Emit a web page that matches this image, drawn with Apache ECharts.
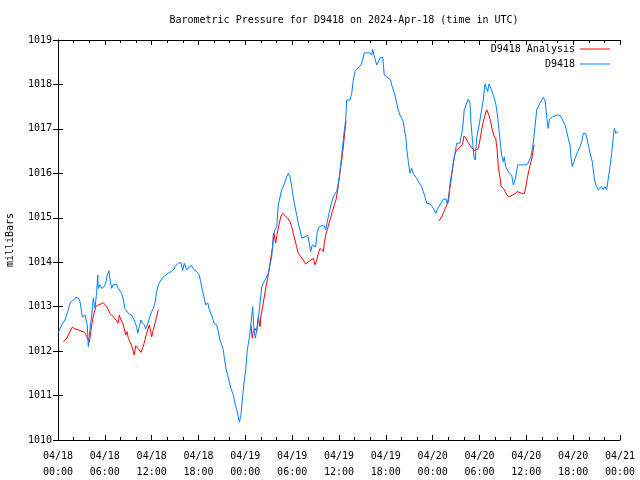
<!DOCTYPE html>
<html><head><meta charset="utf-8">
<script src="https://cdn.jsdelivr.net/npm/echarts@6/dist/echarts.min.js"></script>
<style>html,body{margin:0;padding:0;background:#fff}#c{width:640px;height:480px}</style>
</head><body><div id="c"></div>
<script>
const titleText = 'Barometric Pressure for D9418 on 2024-Apr-18 (time in UTC)';
const yName = 'milliBars';
const xTickLabels = ['04/18\n00:00','04/18\n06:00','04/18\n12:00','04/18\n18:00','04/19\n00:00','04/19\n06:00','04/19\n12:00','04/19\n18:00','04/20\n00:00','04/20\n06:00','04/20\n12:00','04/20\n18:00','04/21\n00:00'];
const seriesNames = ['D9418 Analysis','D9418'];
// [hours since 04/18 00:00 UTC, millibars]
const obs = [[0,1012.40],[0.47,1012.59],[0.90,1012.70],[1.32,1012.93],[1.54,1013.08],[1.76,1013.09],[1.96,1013.15],[2.27,1013.20],[2.60,1013.20],[2.82,1013.11],[2.95,1012.96],[3.11,1012.77],[3.24,1012.74],[3.46,1012.81],[3.59,1012.70],[3.75,1012.59],[3.88,1012.10],[4.01,1012.36],[4.32,1012.81],[4.52,1013.19],[4.74,1012.97],[4.96,1013.34],[5.09,1013.71],[5.16,1013.41],[5.38,1013.49],[5.60,1013.41],[5.89,1013.45],[6.11,1013.53],[6.32,1013.71],[6.53,1013.81],[6.66,1013.60],[6.88,1013.41],[7.01,1013.49],[7.17,1013.50],[7.52,1013.50],[7.72,1013.41],[7.94,1013.38],[8.16,1013.30],[8.37,1013.15],[8.58,1012.96],[8.80,1012.93],[9.01,1012.85],[9.22,1012.89],[9.44,1012.81],[9.65,1012.74],[9.86,1012.70],[10.08,1012.55],[10.21,1012.40],[10.42,1012.55],[10.63,1012.70],[10.80,1012.63],[11.06,1012.59],[11.24,1012.50],[11.44,1012.59],[11.70,1012.74],[11.91,1012.85],[12.21,1012.96],[12.43,1013.08],[12.64,1013.34],[12.85,1013.49],[13.07,1013.56],[13.36,1013.64],[13.71,1013.70],[14.13,1013.75],[14.57,1013.80],[14.90,1013.85],[14.99,1013.90],[15.41,1013.98],[15.76,1013.99],[15.97,1013.81],[16.18,1013.98],[16.49,1013.83],[16.82,1013.89],[17.13,1013.92],[17.42,1013.83],[17.77,1013.79],[18.10,1013.71],[18.28,1013.56],[18.49,1013.38],[18.70,1013.22],[18.92,1013.04],[19.18,1013.09],[19.34,1012.96],[19.56,1012.85],[19.77,1012.77],[19.98,1012.63],[20.33,1012.59],[20.54,1012.44],[20.75,1012.25],[20.97,1012.14],[21.18,1012.03],[21.31,1011.84],[21.52,1011.61],[21.74,1011.46],[21.94,1011.31],[22.16,1011.16],[22.46,1011.01],[22.67,1010.83],[22.89,1010.68],[23.10,1010.52],[23.23,1010.41],[23.41,1010.52],[23.61,1010.90],[23.83,1011.28],[24.05,1011.58],[24.25,1012.03],[24.47,1012.25],[24.69,1012.55],[24.81,1012.77],[24.94,1013.00],[25.11,1012.48],[25.28,1012.29],[25.46,1012.48],[25.66,1012.70],[25.88,1013.08],[26.10,1013.45],[26.30,1013.53],[26.52,1013.60],[26.74,1013.56],[26.94,1013.75],[27.16,1013.94],[27.38,1014.12],[27.58,1014.61],[27.80,1014.73],[28.02,1014.80],[28.22,1015.29],[28.44,1015.33],[28.66,1015.63],[28.86,1015.70],[29.08,1015.81],[29.30,1015.92],[29.50,1016.00],[29.72,1015.92],[29.94,1015.70],[30.14,1015.47],[30.36,1015.25],[30.58,1015.06],[30.78,1014.88],[31.00,1014.73],[31.22,1014.54],[31.42,1014.50],[31.64,1014.57],[31.99,1014.61],[32.19,1014.43],[32.37,1014.24],[32.58,1014.39],[32.80,1014.39],[33.01,1014.34],[33.22,1014.69],[33.47,1014.80],[33.78,1014.82],[34.11,1014.82],[34.29,1014.73],[34.50,1014.69],[34.72,1015.10],[34.97,1015.29],[35.27,1015.47],[35.49,1015.54],[35.70,1015.59],[35.91,1015.78],[36.04,1015.92],[36.22,1016.19],[36.42,1016.53],[36.64,1016.90],[36.86,1017.20],[36.98,1017.65],[37.19,1017.69],[37.41,1017.65],[37.63,1017.80],[37.83,1018.10],[38.05,1018.29],[38.27,1018.34],[38.56,1018.39],[38.82,1018.44],[39.03,1018.55],[39.24,1018.71],[39.55,1018.71],[39.97,1018.71],[40.19,1018.66],[40.32,1018.79],[40.48,1018.66],[40.61,1018.62],[40.83,1018.44],[41.03,1018.51],[41.34,1018.61],[41.60,1018.61],[41.80,1018.21],[42.11,1018.19],[42.31,1018.14],[42.62,1018.10],[42.75,1017.99],[42.95,1017.88],[43.17,1017.76],[43.39,1017.58],[43.59,1017.43],[43.81,1017.31],[44.03,1017.24],[44.24,1017.16],[44.36,1017.01],[44.58,1016.79],[44.67,1016.56],[44.88,1016.26],[45.09,1016.00],[45.31,1016.11],[45.52,1016.00],[45.73,1015.96],[45.95,1015.89],[46.16,1015.81],[46.37,1015.78],[46.59,1015.70],[46.80,1015.59],[47.02,1015.47],[47.23,1015.33],[47.66,1015.31],[47.95,1015.25],[48.17,1015.18],[48.39,1015.10],[48.59,1015.19],[48.81,1015.25],[49.06,1015.33],[49.36,1015.42],[49.71,1015.42],[49.87,1015.31],[50.05,1015.36],[50.22,1015.78],[50.44,1016.00],[50.64,1016.23],[50.86,1016.45],[51.08,1016.68],[51.28,1016.71],[51.50,1016.68],[51.63,1016.82],[51.84,1017.01],[52.05,1017.43],[52.36,1017.58],[52.56,1017.67],[52.78,1017.58],[52.91,1017.13],[53.13,1016.68],[53.29,1016.37],[53.46,1016.30],[53.63,1016.79],[53.84,1016.98],[54.06,1017.20],[54.28,1017.22],[54.48,1017.65],[54.70,1018.01],[54.92,1017.99],[55.05,1017.84],[55.21,1018.01],[55.47,1017.91],[55.69,1017.80],[55.89,1017.69],[56.11,1017.54],[56.33,1017.27],[56.50,1016.98],[56.71,1016.60],[56.84,1016.41],[57.05,1016.26],[57.18,1016.37],[57.35,1016.15],[57.56,1016.11],[57.78,1016.01],[58.12,1015.96],[58.33,1015.74],[58.55,1015.85],[58.76,1016.04],[58.89,1016.19],[59.10,1016.15],[59.40,1016.19],[59.83,1016.19],[60.17,1016.21],[60.38,1016.30],[60.60,1016.37],[60.76,1016.56],[60.89,1016.68],[61.11,1017.05],[61.33,1017.43],[61.53,1017.50],[61.75,1017.58],[61.97,1017.61],[62.17,1017.71],[62.39,1017.65],[62.52,1017.43],[62.68,1017.16],[62.81,1017.01],[62.94,1017.20],[63.16,1017.24],[63.32,1017.27],[63.54,1017.31],[63.89,1017.31],[64.31,1017.31],[64.53,1017.24],[64.73,1017.20],[64.95,1017.09],[65.17,1016.94],[65.37,1016.79],[65.59,1016.64],[65.72,1016.37],[65.89,1016.15],[66.10,1016.26],[66.32,1016.37],[66.58,1016.49],[66.87,1016.60],[67.09,1016.71],[67.30,1016.90],[67.60,1016.90],[67.81,1016.75],[68.03,1016.56],[68.24,1016.41],[68.45,1016.26],[68.63,1016.00],[68.79,1015.81],[69.01,1015.70],[69.22,1015.63],[69.43,1015.66],[69.65,1015.70],[69.86,1015.63],[70.07,1015.70],[70.29,1015.63],[70.50,1015.63],[70.72,1016.15],[70.93,1016.45],[71.14,1016.82],[71.27,1017.01],[71.45,1016.90],[71.61,1016.86],[71.78,1016.94]];
const ana1 = [[0.68,1012.20],[1.11,1012.29],[1.54,1012.44],[1.83,1012.54],[2.18,1012.50],[2.60,1012.48],[2.95,1012.45],[3.24,1012.44],[3.55,1012.38],[3.75,1012.36],[3.88,1012.25],[4.01,1012.20],[4.23,1012.48],[4.39,1012.66],[4.61,1012.85],[4.83,1013.00],[5.16,1013.04],[5.51,1013.06],[5.80,1013.09],[6.02,1013.08],[6.24,1013.00],[6.44,1012.93],[6.66,1012.85],[6.88,1012.83],[7.08,1012.77],[7.30,1012.74],[7.52,1012.68],[7.72,1012.63],[7.85,1012.81],[8.07,1012.70],[8.29,1012.63],[8.49,1012.51],[8.67,1012.36],[8.84,1012.44],[9.01,1012.29],[9.22,1012.25],[9.44,1012.12],[9.65,1011.99],[9.77,1011.91],[9.95,1012.12],[10.16,1012.08],[10.38,1012.03],[10.63,1011.97],[10.80,1012.05],[10.98,1012.14],[11.24,1012.32],[11.49,1012.48],[11.70,1012.59],[11.88,1012.44],[12.00,1012.32],[12.21,1012.48],[12.43,1012.63],[12.64,1012.77],[12.85,1012.93]];
const ana2 = [[24.72,1012.59],[24.89,1012.29],[25.02,1012.44],[25.24,1012.51],[25.46,1012.44],[25.66,1012.77],[25.88,1012.55],[26.01,1012.81],[26.22,1013.00],[26.43,1013.22],[26.65,1013.45],[26.86,1013.64],[27.07,1013.86],[27.29,1014.12],[27.50,1014.35],[27.67,1014.65],[27.89,1014.43],[28.09,1014.65],[28.31,1014.84],[28.53,1015.02],[28.79,1015.10],[29.08,1015.05],[29.43,1014.99],[29.72,1014.91],[29.94,1014.80],[30.14,1014.65],[30.36,1014.50],[30.58,1014.35],[30.78,1014.20],[31.13,1014.12],[31.42,1014.05],[31.73,1013.96],[32.07,1014.01],[32.41,1014.05],[32.71,1014.09],[32.92,1013.94],[33.14,1014.05],[33.35,1014.20],[33.56,1014.31],[33.78,1014.28],[33.99,1014.24],[34.12,1014.43],[34.29,1014.61],[34.50,1014.73],[34.72,1014.88],[34.93,1014.99],[35.14,1015.14],[35.40,1015.29],[35.61,1015.40],[35.83,1015.63],[36.04,1015.89],[36.22,1016.15],[36.35,1016.30],[36.55,1016.60],[36.68,1016.82],[36.86,1017.13],[36.93,1017.18]];
const ana3 = [[48.81,1014.93],[49.15,1015.02],[49.45,1015.14],[49.71,1015.25],[49.92,1015.33],[50.09,1015.55],[50.31,1015.78],[50.47,1016.00],[50.64,1016.23],[50.86,1016.45],[51.08,1016.53],[51.28,1016.56],[51.59,1016.60],[51.84,1016.66],[52.01,1016.84],[52.27,1016.79],[52.48,1016.71],[52.69,1016.68],[52.91,1016.60],[53.13,1016.56],[53.33,1016.51],[53.55,1016.53],[53.84,1016.56],[54.06,1016.75],[54.28,1016.98],[54.48,1017.16],[54.70,1017.31],[54.92,1017.43],[55.05,1017.46],[55.21,1017.31],[55.43,1017.16],[55.64,1016.98],[55.86,1016.84],[56.07,1016.79],[56.24,1016.56],[56.41,1016.15],[56.62,1015.92],[56.75,1015.72],[56.97,1015.70],[57.18,1015.63],[57.39,1015.55],[57.69,1015.47],[57.90,1015.47],[58.20,1015.51],[58.55,1015.54],[58.84,1015.59],[59.06,1015.59],[59.40,1015.55],[59.74,1015.54],[59.95,1015.70],[60.12,1015.89],[60.34,1016.08],[60.56,1016.23],[60.76,1016.37],[60.94,1016.60],[61.02,1016.64]];

const FONT = 'DejaVu Sans Mono';
const chart = echarts.init(document.getElementById('c'), null, {renderer: 'canvas'});
const xBase = {
  type: 'value', min: 0, max: 72, interval: 6,
  axisLine: {show: true, lineStyle: {color: '#000', width: 1}},
  axisTick: {show: true, inside: true, length: 5, lineStyle: {color: '#000'}},
  minorTick: {show: true, splitNumber: 3, length: 3, lineStyle: {color: '#000'}},
  splitLine: {show: false}
};
const yBase = {
  type: 'value', min: 1010, max: 1019, interval: 1,
  axisLine: {show: true, lineStyle: {color: '#000', width: 1}},
  axisTick: {show: true, inside: true, length: 5, lineStyle: {color: '#000'}},
  splitLine: {show: false}
};
const lineSeries = (name, data, color) => ({
  name, type: 'line', data, showSymbol: false, symbol: 'none',
  lineStyle: {color, width: 1}, itemStyle: {color}, animation: false,
  xAxisIndex: 0, yAxisIndex: 0
});
const legendBase = {
  orient: 'vertical', right: 30, align: 'right', icon: 'rect', padding: 0,
  itemWidth: 30, itemHeight: 1, selectedMode: false,
  textStyle: {fontFamily: FONT, fontSize: 10, color: '#000'}
};
chart.setOption({
  animation: false,
  backgroundColor: '#fff',
  title: {text: titleText, left: 339, textAlign: 'center', top: 10,
    textStyle: {fontFamily: FONT, fontSize: 10, fontWeight: 'normal', color: '#000'}},
  grid: {left: 58, right: 20, top: 40, bottom: 40, containLabel: false, outerBoundsMode: 'none'},
  legend: [
    Object.assign({}, legendBase, {data: [seriesNames[0]], top: 44}),
    Object.assign({}, legendBase, {data: [seriesNames[1]], top: 59})
  ],
  xAxis: [
    Object.assign({}, xBase, {position: 'bottom',
      axisLabel: {fontFamily: FONT, fontSize: 10, color: '#000', margin: 8, lineHeight: 16,
        formatter: v => xTickLabels[Math.round(v / 6)]}}),
    Object.assign({}, xBase, {position: 'top', axisLabel: {show: false}})
  ],
  yAxis: [
    Object.assign({}, yBase, {position: 'left', name: yName, nameLocation: 'middle', nameRotate: 90, nameGap: 43,
      nameTextStyle: {fontFamily: FONT, fontSize: 10, color: '#000'},
      axisLabel: {fontFamily: FONT, fontSize: 10, color: '#000', margin: 6, formatter: v => String(v)}}),
    Object.assign({}, yBase, {position: 'right', axisLabel: {show: false}})
  ],
  series: [
    lineSeries(seriesNames[0], ana1, '#ff0000'),
    lineSeries(seriesNames[0], ana2, '#ff0000'),
    lineSeries(seriesNames[0], ana3, '#ff0000'),
    lineSeries(seriesNames[1], obs, '#0080ff')
  ]
});
</script></body></html>
